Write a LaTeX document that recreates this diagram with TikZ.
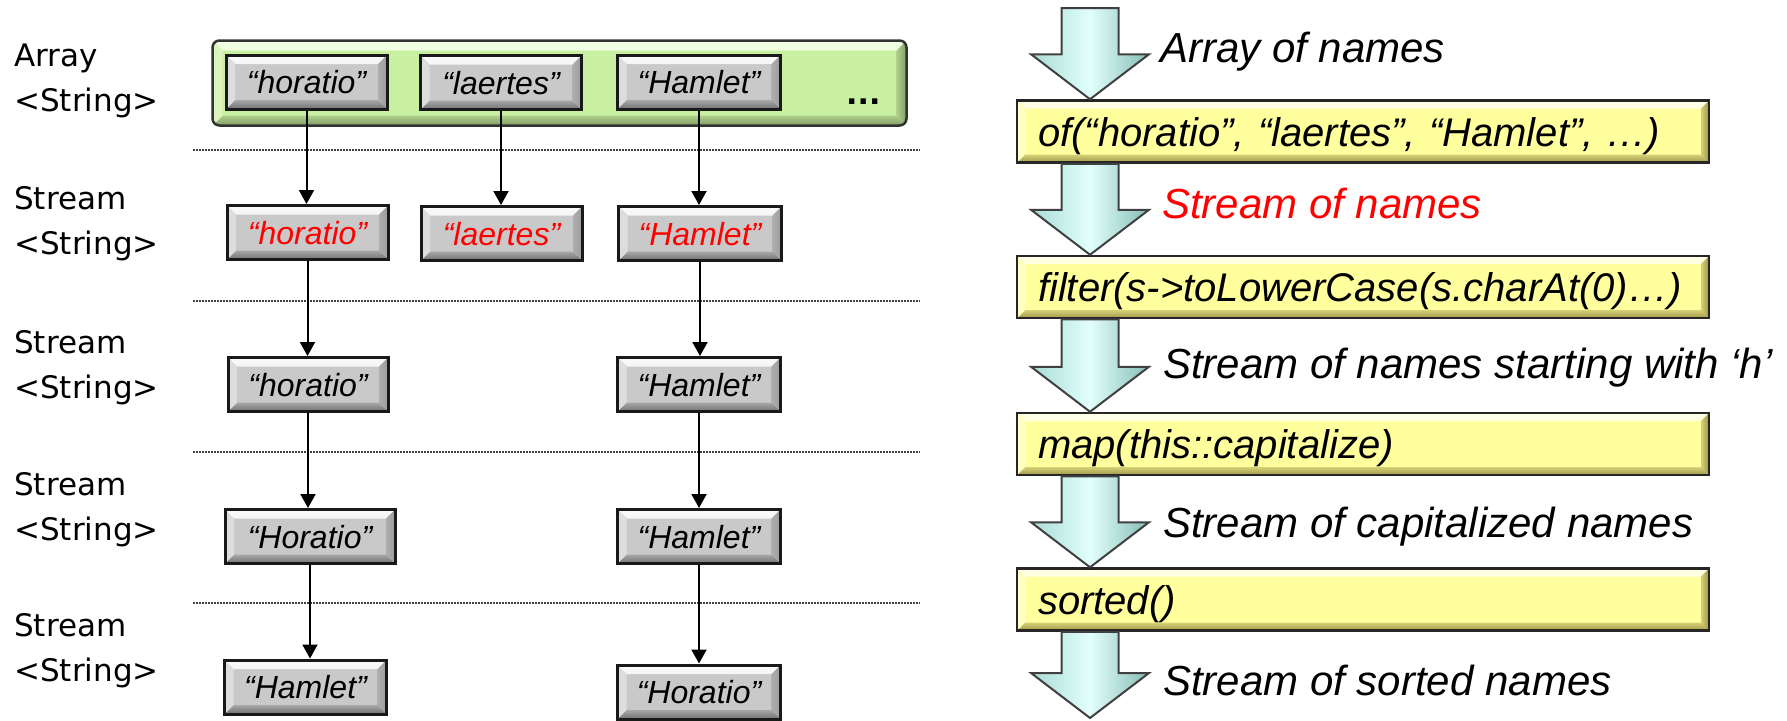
\documentclass[tikz,border=0pt]{standalone}
\usepackage{fontspec}
\usetikzlibrary{arrows.meta,calc}
\newfontfamily\arial{Liberation Sans}
\newfontfamily\dejavu{DejaVu Sans}
\definecolor{gfill}{HTML}{C9C9C9}
\definecolor{gtopA}{HTML}{FAFAFA}
\definecolor{gtopB}{HTML}{DADADA}
\definecolor{gleft}{HTML}{DDDDDD}
\definecolor{gright}{HTML}{9C9C9C}
\definecolor{gbotA}{HTML}{A8A8A8}
\definecolor{gbotB}{HTML}{707070}
\definecolor{yfill}{HTML}{FFFF9E}
\definecolor{ytopA}{HTML}{FFFFE8}
\definecolor{ytopB}{HTML}{FFFFB8}
\definecolor{yleft}{HTML}{FFFFC4}
\definecolor{yrightA}{HTML}{D6D078}
\definecolor{yrightB}{HTML}{9C9646}
\definecolor{ybotA}{HTML}{D6D078}
\definecolor{ybotB}{HTML}{A09A4A}
\definecolor{grfill}{HTML}{C9F0A1}
\definecolor{grtopA}{HTML}{F2FFE6}
\definecolor{grtopB}{HTML}{D8F6BC}
\definecolor{grleft}{HTML}{DAF6BE}
\definecolor{grrightA}{HTML}{AFCF8C}
\definecolor{grrightB}{HTML}{7F9E62}
\definecolor{grbotA}{HTML}{AFCF8C}
\definecolor{grbotB}{HTML}{809F63}
\definecolor{acyanL}{HTML}{A8DCD5}
\definecolor{acyanM}{HTML}{E2FFFC}
\definecolor{acyanR}{HTML}{86BCB5}
\tikzset{
  bevel/.style n args={5}{path picture={
    \path[sharp corners,#2] (path picture bounding box.north west) -- (path picture bounding box.north east)
      -- ([shift={(-#1,-#1)}]path picture bounding box.north east) -- ([shift={(#1,-#1)}]path picture bounding box.north west) -- cycle;
    \path[sharp corners,#5] (path picture bounding box.south west) -- (path picture bounding box.south east)
      -- ([shift={(-#1,#1)}]path picture bounding box.south east) -- ([shift={(#1,#1)}]path picture bounding box.south west) -- cycle;
    \path[sharp corners,#3] (path picture bounding box.north west) -- ([shift={(#1,-#1)}]path picture bounding box.north west)
      -- ([shift={(#1,#1)}]path picture bounding box.south west) -- (path picture bounding box.south west) -- cycle;
    \path[sharp corners,#4] (path picture bounding box.north east) -- ([shift={(-#1,-#1)}]path picture bounding box.north east)
      -- ([shift={(-#1,#1)}]path picture bounding box.south east) -- (path picture bounding box.south east) -- cycle;
  }},
  gbox/.style={draw=black!90, line width=3pt, fill=gfill, minimum width=161pt, minimum height=54pt,
    inner sep=0pt, text height=23pt, text depth=0pt, font=\arial\itshape\fontsize{32}{38}\selectfont,
    bevel={9pt}{top color=gtopA,bottom color=gtopB}{fill=gleft}{left color=gright!60!gfill,right color=gright}{top color=gbotA,bottom color=gbotB}},
  redtext/.style={text=red},
  greenbox/.style={draw=black!80, line width=2.5pt, fill=grfill, rounded corners=7pt, minimum width=694pt,
    minimum height=85pt, inner sep=0pt,
    bevel={10pt}{top color=grtopA,bottom color=grtopB}{fill=grleft}{left color=grrightA,right color=grrightB}{top color=grbotA,bottom color=grbotB}},
  ybox/.style={draw=black!85, line width=2.5pt, fill=yfill, text width=650pt, inner xsep=21pt, inner ysep=0pt,
    minimum height=62pt, align=left, text height=29pt, text depth=0pt,
    font=\arial\itshape\fontsize{40}{48}\selectfont,
    bevel={8pt}{top color=ytopA,bottom color=ytopB}{fill=yleft}{left color=yrightA,right color=yrightB}{top color=ybotA,bottom color=ybotB}},
  albl/.style={anchor=base west, inner sep=0pt, font=\arial\itshape\fontsize{42}{50}\selectfont},
  lbl/.style={anchor=west, inner sep=0pt, align=left, font=\dejavu\fontsize{31}{45}\selectfont},
  conn/.style={draw=black, line width=2pt, -{Triangle[width=15pt,length=14pt]}},
  farrow/.style={draw=black!75, line width=2pt, left color=acyanL, right color=acyanR, middle color=acyanM, line join=miter},
  sep/.style={draw=black!75, line width=1.5pt, dash pattern=on 1.5pt off 1.5pt},
}
\newcommand\flowarrow[2]{%
  \path[farrow] let \p1=(#1), \p2=(#2) in
    (\x1-28.5pt,\y1) -- (\x1+28.5pt,\y1) -- (\x1+28.5pt,\y2+45pt) -- (\x1+59pt,\y2+45pt)
    -- (\x1,\y2) -- (\x1-59pt,\y2+45pt) -- (\x1-28.5pt,\y2+45pt) -- cycle;}
\begin{document}
\begin{tikzpicture}[x=1pt,y=-1pt]
\useasboundingbox (0,0) rectangle (1787,720);
% left labels
\node[lbl] (lab1) at (14,80.5) {Array\\<String>};
\node[lbl] (lab2) at (14,223.5) {Stream\\<String>};
\node[lbl] (lab3) at (14,367.5) {Stream\\<String>};
\node[lbl] (lab4) at (14,509.5) {Stream\\<String>};
\node[lbl] (lab5) at (14,650.5) {Stream\\<String>};
% separators
\draw[sep] (193,150) -- (920,150);
\draw[sep] (193,301) -- (920,301);
\draw[sep] (193,452) -- (920,452);
\draw[sep] (193,603) -- (920,603);
% array container
\node[greenbox] (arr) at (559.5,83) {};
\node[anchor=base west, inner sep=0pt, font=\dejavu\bfseries\fontsize{30}{36}\selectfont] (dots) at (846,104) {...};
% gray boxes
\node[gbox] (r1c1) at (306.5,82) {“horatio”};
\node[gbox] (r1c2) at (501,82.5) {“laertes”};
\node[gbox, minimum width=163pt] (r1c3) at (699,82) {“Hamlet”};
\node[gbox, redtext] (r2c1) at (307.5,232.5) {“horatio”};
\node[gbox, redtext] (r2c2) at (501.5,233.5) {“laertes”};
\node[gbox, redtext, minimum width=163pt] (r2c3) at (700,233.5) {“Hamlet”};
\node[gbox, minimum width=160pt] (r3c1) at (308,384.5) {“horatio”};
\node[gbox, minimum width=163pt] (r3c3) at (699,384.5) {“Hamlet”};
\node[gbox, minimum width=170pt] (r4c1) at (310,536.5) {“Horatio”};
\node[gbox, minimum width=163pt] (r4c3) at (699,536.5) {“Hamlet”};
\node[gbox, minimum width=162pt] (r5c1) at (305.5,687) {“Hamlet”};
\node[gbox, minimum width=163pt] (r5c3) at (699,692) {“Horatio”};
% connectors
\draw[conn] (r1c1.south) -- (r1c1.south |- r2c1.north);
\draw[conn] (r1c2.south) -- (r1c2.south |- r2c2.north);
\draw[conn] (r1c3.south) -- (r1c3.south |- r2c3.north);
\draw[conn] (r2c1.south) -- (r2c1.south |- r3c1.north);
\draw[conn] (r2c3.south) -- (r2c3.south |- r3c3.north);
\draw[conn] (r3c1.south) -- (r3c1.south |- r4c1.north);
\draw[conn] (r3c3.south) -- (r3c3.south |- r4c3.north);
\draw[conn] (r4c1.south) -- (r4c1.south |- r5c1.north);
\draw[conn] (r4c3.south) -- (r4c3.south |- r5c3.north);
% right: pipeline
\coordinate (ptop) at (1090,8);
\coordinate (pbot) at (1090,718);
\node[ybox] (f1) at (1363,131.5) {of(“horatio”, “laertes”, “Hamlet”, …)};
\node[ybox] (f2) at (1363,287) {filter(s->toLowerCase(s.charAt(0)…)};
\node[ybox] (f3) at (1363,444) {map(this::capitalize)};
\node[ybox] (f4) at (1363,599.5) {sorted()};
\flowarrow{ptop}{[xshift=-273pt]f1.north}
\flowarrow{[xshift=-273pt]f1.south}{[xshift=-273pt]f2.north}
\flowarrow{[xshift=-273pt]f2.south}{[xshift=-273pt]f3.north}
\flowarrow{[xshift=-273pt]f3.south}{[xshift=-273pt]f4.north}
\flowarrow{[xshift=-273pt]f4.south}{pbot}
\node[albl] (a1) at (1160,62) {Array of names};
\node[albl, text=red] (a2) at (1162,218) {Stream of names};
\node[albl] (a3) at (1163,378) {Stream of names starting with ‘h’};
\node[albl] (a4) at (1163,537) {Stream of capitalized names};
\node[albl] (a5) at (1163,695) {Stream of sorted names};
\end{tikzpicture}
\end{document}
